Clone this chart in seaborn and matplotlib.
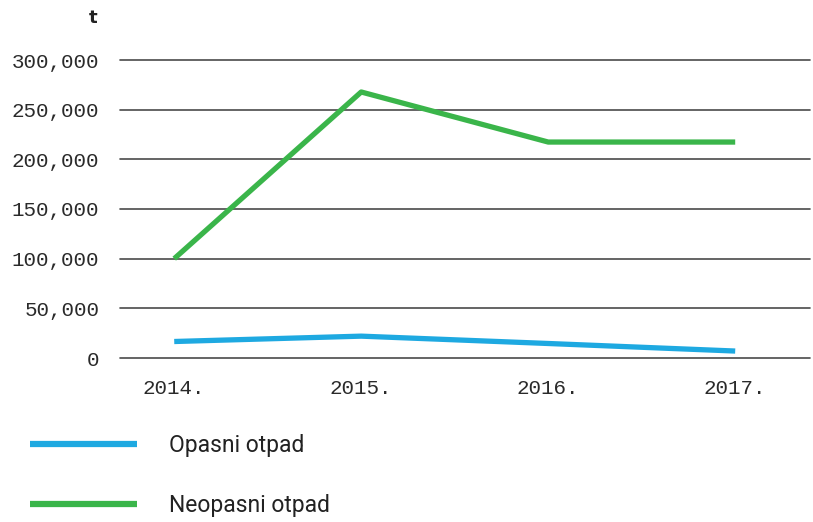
import matplotlib
matplotlib.use("Agg")
import matplotlib.pyplot as plt
import matplotlib.ticker as mticker
import seaborn as sns
import pandas as pd

# podaci
godine = ["2014.", "2015.", "2016.", "2017."]
opasni = [16600, 22000, 14600, 7000]
neopasni = [100000, 267800, 217400, 217400]
serije = ["Opasni otpad", "Neopasni otpad"]
boje = {"Opasni otpad": "#1EA9E1", "Neopasni otpad": "#3AB54A"}
y_ticks = [0, 50000, 100000, 150000, 200000, 250000, 300000]

df = pd.DataFrame({
    "godina": godine * 2,
    "x": list(range(len(godine))) * 2,
    "vrijednost": opasni + neopasni,
    "serija": [serije[0]] * 4 + [serije[1]] * 4,
})

sns.set_theme(style="white")
plt.rcParams["font.family"] = ["Liberation Mono", "DejaVu Sans Mono"]

fig = plt.figure(figsize=(8.13, 5.22), dpi=100)
ax = fig.add_axes([120 / 813, 1 - 358 / 522, 690 / 813, 298 / 522])

sns.lineplot(data=df, x="x", y="vrijednost", hue="serija", palette=boje,
             linewidth=3.8, ax=ax, legend=False, zorder=3)
for ln in ax.get_lines():
    ln.set_solid_capstyle("butt")

ax.set_ylim(0, 300000)
ax.set_xlim(-0.29, 3.4)
ax.set_yticks(y_ticks)
ax.yaxis.set_major_formatter(mticker.FuncFormatter(lambda v, p: f"{int(v):,}"))
ax.set_xticks(range(len(godine)))
ax.set_xticklabels(godine)
for y in y_ticks:
    ax.axhline(y, color="#4a4a4a", linewidth=1.2, zorder=1, clip_on=False)
for s in ax.spines.values():
    s.set_visible(False)
ax.tick_params(axis="y", length=0, pad=15, labelsize=15, labelcolor="#2a2a2a")
ax.tick_params(axis="x", length=0, pad=15, labelsize=15, labelcolor="#2a2a2a")
ax.set_xlabel("")
ax.set_ylabel("")

fig.text(93 / 813, 1 - 18 / 522, "t", ha="center", va="center",
         fontsize=13, fontweight="bold", color="#222222", family="DejaVu Sans")

# legenda
handles = [plt.Line2D([], [], color=boje[s], linewidth=4.5, solid_capstyle="butt")
           for s in serije]
leg = fig.legend(handles, serije, loc="upper left",
                 bbox_to_anchor=(9 / 813, 1 - 413 / 522),
                 frameon=False, handlelength=4.7, handletextpad=1.4,
                 labelspacing=1.65,
                 prop={"family": ["Roboto", "DejaVu Sans"], "size": 16.5})
for t in leg.get_texts():
    t.set_color("#222222")

fig.savefig("out.png", dpi=100)
